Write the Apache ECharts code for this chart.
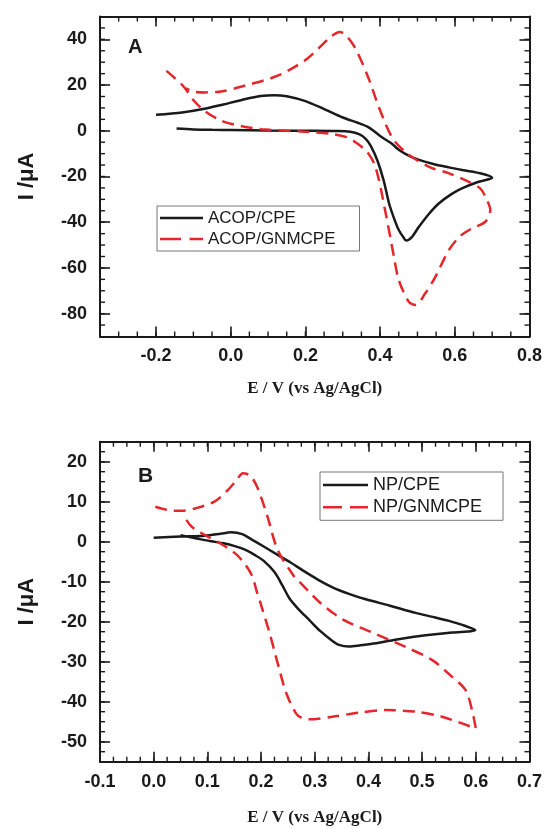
<!DOCTYPE html>
<html>
<head>
<meta charset="utf-8">
<script src="https://cdn.jsdelivr.net/npm/echarts@6/dist/echarts.min.js"></script>
<style>
html,body{margin:0;padding:0;background:#fff;}
#chart{width:545px;height:829px;}
</style>
</head>
<body>
<div id="chart"></div>
<script>
// ---------- Panel A data ----------
var acopCpeE = [-0.145,-0.1,-0.05,0.0,0.1,0.2,0.28,0.32,0.345,0.362,0.375,0.393,0.41,0.424,0.44,0.45,0.462,0.47,0.485,0.504,0.53,0.557,0.59,0.619,0.66,0.7,
  0.668,0.625,0.584,0.54,0.495,0.47,0.45,0.43,0.403,0.385,0.366,0.34,0.3,0.25,0.2,0.15,0.117,0.08,0.03,-0.02,-0.07,-0.13,-0.2];
var acopCpeI = [1.0,0.6,0.4,0.3,0.1,0.0,-0.1,-0.4,-1.6,-3.6,-6.6,-13.1,-22,-31.8,-39.5,-43.4,-46.5,-48,-46.5,-42,-36.5,-31.8,-27.8,-25.2,-22.5,-20.5,
  -18.6,-17.3,-16,-14.4,-12.2,-10.3,-8.3,-5.5,-2.6,-0.3,1.8,3.5,5.8,9.5,13,15.1,15.6,15.2,13.5,11.5,9.6,8,7];

var acopGnmE = [-0.172,-0.128,-0.097,-0.07,-0.025,0.03,0.082,0.188,0.272,0.31,0.335,0.366,0.388,0.415,0.437,0.45,0.477,0.495,0.521,0.548,0.584,0.615,0.646,0.682,0.695,0.686,0.668,
  0.628,0.583,0.539,0.5,0.468,0.432,0.397,0.37,0.335,0.31,0.292,0.268,0.235,0.197,0.126,0.037,-0.025,-0.07,-0.1,-0.12];
var acopGnmI = [26.2,19.7,12.9,8.7,4.4,2.0,0.7,-0.3,-1.4,-2.8,-5.1,-9.4,-16,-36.1,-55.1,-65.3,-74.8,-76.2,-71.1,-63.9,-52.2,-46,-42.7,-39.8,-34.7,-30.3,-25.2,
  -21.6,-18.5,-16.3,-13,-9.4,-2.9,10.2,22.6,35.7,41.5,43.2,41.1,36,30.6,24.1,19.7,17.2,16.8,17.2,18.5];

// ---------- Panel B data ----------
var npCpeE = [0.0,0.05,0.095,0.125,0.144,0.165,0.182,0.205,0.231,0.255,0.277,0.305,0.333,0.365,0.395,0.44,0.488,0.52,0.55,0.575,0.599,
  0.556,0.52,0.488,0.45,0.414,0.385,0.364,0.345,0.333,0.31,0.29,0.27,0.253,0.24,0.225,0.205,0.188,0.17,0.151,0.13,0.107,0.08,0.05];
var npCpeI = [1.0,1.3,1.5,2.0,2.35,1.9,0.6,-1.2,-3.3,-5.2,-7.1,-9.4,-11.4,-13.1,-14.4,-16.0,-17.8,-18.8,-19.8,-20.8,-22.1,
  -22.7,-23.2,-23.7,-24.5,-25.4,-25.9,-26.2,-25.8,-24.8,-22.3,-19.6,-16.9,-14.2,-11,-7.6,-4.8,-3.3,-2.0,-1.1,-0.4,0.1,0.8,1.6];

var npGnmE = [0.003,0.036,0.055,0.077,0.113,0.138,0.155,0.166,0.18,0.194,0.212,0.231,0.262,0.27,0.308,0.352,0.405,0.469,0.519,0.556,0.581,0.593,0.6,
  0.537,0.488,0.432,0.383,0.333,0.29,0.275,0.265,0.247,0.231,0.216,0.2,0.193,0.181,0.155,0.119,0.101,0.071,0.055];
var npGnmI = [8.75,7.75,7.75,8.3,10,12.9,15.5,17.1,16.5,13.3,6.25,-2.1,-8.75,-9.8,-15,-19.4,-22.6,-26.3,-29.6,-33.8,-37.1,-42.1,-46.7,
  -43.75,-42.5,-42.1,-42.75,-43.75,-44.4,-44,-42.9,-37.9,-30.4,-22.9,-15.8,-12.9,-7.9,-3.3,0,1.25,3.75,6.7];

// ---------- Axis ticks ----------
var xTicksA = [-0.2,0.0,0.2,0.4,0.6,0.8];
var yTicksA = [-80,-60,-40,-20,0,20,40];
var xTicksB = [-0.1,0.0,0.1,0.2,0.3,0.4,0.5,0.6,0.7];
var yTicksB = [-50,-40,-30,-20,-10,0,10,20];

var seriesNamesA = ['ACOP/CPE','ACOP/GNMCPE'];
var seriesNamesB = ['NP/CPE','NP/GNMCPE'];

function zip(a,b){ var r=[]; for(var i=0;i<a.length;i++) r.push([a[i],b[i]]); return r; }

var SANS = '"Liberation Sans", Arial, sans-serif';
var SERIF = '"Liberation Serif", "Times New Roman", serif';
var BLK = '#1a1a1a';
var RED = '#e5262b';

var fx = function(v){ return (Math.abs(v)<1e-9?0:v).toFixed(1); };
var fy = function(v){ return String(Math.round(v)); };

function axis(grid, pos, min, max, ticks, showLabel, fmt, name, nameGap, isX){
  var ax = {
    type:'value', gridIndex:grid, position:pos, min:min, max:max,
    splitLine:{show:false},
    axisLine:{show:true, onZero:false, lineStyle:{color:BLK, width:2}},
    axisTick:{show:true, inside:true, length:10, customValues:ticks, lineStyle:{color:BLK, width:1.6}},
    axisLabel:{show:showLabel, customValues:ticks, formatter:fmt, margin:isX?11:13,
      color:BLK, fontFamily:SANS, fontWeight:'bold', fontSize:18}
  };
  if (name){
    ax.name = name; ax.nameLocation = 'middle'; ax.nameGap = nameGap;
    ax.nameTextStyle = isX ? {fontFamily:SERIF, fontWeight:'bold', fontSize:17, color:BLK}
                           : {fontFamily:SANS, fontWeight:'bold', fontSize:22, color:BLK};
  }
  return ax;
}

// minor tick marks (inside, on all four sides), placed through the axes' own scales
function minorTickData(xMin, xMax, xStep, yMin, yMax, yStep){
  var d = [], i, v;
  for (i = 1; xMin + i*xStep < xMax - 1e-9; i++){ v = +(xMin + i*xStep).toFixed(4); d.push([v, 0]); d.push([v, 1]); }
  for (i = 1; yMin + i*yStep < yMax - 1e-9; i++){ v = +(yMin + i*yStep).toFixed(4); d.push([v, 2]); d.push([v, 3]); }
  return d;
}
function minorTickRenderer(xMin, xMax, yMin, yMax){
  return function(params, api){
    var v = api.value(0), side = api.value(1), len = 5, p;
    var st = {stroke:BLK, lineWidth:1.4};
    if (side === 0){ p = api.coord([v, yMin]); return {type:'line', shape:{x1:p[0], y1:p[1], x2:p[0], y2:p[1]-len}, style:st}; }
    if (side === 1){ p = api.coord([v, yMax]); return {type:'line', shape:{x1:p[0], y1:p[1], x2:p[0], y2:p[1]+len}, style:st}; }
    if (side === 2){ p = api.coord([xMin, v]); return {type:'line', shape:{x1:p[0], y1:p[1], x2:p[0]+len, y2:p[1]}, style:st}; }
    p = api.coord([xMax, v]); return {type:'line', shape:{x1:p[0], y1:p[1], x2:p[0]-len, y2:p[1]}, style:st};
  };
}

var option = {
  animation:false,
  backgroundColor:'#fff',
  grid:[
    {left:100, top:16.5, width:431, height:320},
    {left:100, top:441.7, width:431, height:320}
  ],
  title:[
    {text:'A', left:128, top:37, padding:0, textStyle:{fontFamily:SANS, fontWeight:'bold', fontSize:20, color:BLK}},
    {text:'B', left:138, top:466, padding:0, textStyle:{fontFamily:SANS, fontWeight:'bold', fontSize:21, color:BLK}}
  ],
  xAxis:[
    axis(0,'bottom',-0.35,0.8,xTicksA,true,fx,'E / V (vs Ag/AgCl)',44,true),
    axis(0,'top',-0.35,0.8,xTicksA,false,fx,null,0,true),
    axis(1,'bottom',-0.1,0.7,xTicksB,true,fx,'E / V (vs Ag/AgCl)',47,true),
    axis(1,'top',-0.1,0.7,xTicksB,false,fx,null,0,true)
  ],
  yAxis:[
    axis(0,'left',-90,50,yTicksA,true,fy,'I /\u03BCA',62,false),
    axis(0,'right',-90,50,yTicksA,false,fy,null,0,false),
    axis(1,'left',-55,25,yTicksB,true,fy,'I /\u03BCA',62,false),
    axis(1,'right',-55,25,yTicksB,false,fy,null,0,false)
  ],
  legend:[
    {data:[
       {name:seriesNamesA[0], icon:'path://M0,0H43V2.6H0Z'},
       {name:seriesNamesA[1], icon:'path://M0,0H21V2.6H0Z M29.5,0H43V2.6H29.5Z'}
     ],
     orient:'vertical', left:157, top:206, itemGap:4, itemWidth:43, itemHeight:18,
     padding:[3.5,24,3.5,3], borderColor:'#777', borderWidth:1, selectedMode:false,
     itemStyle:{borderWidth:0},
     textStyle:{fontFamily:SANS, fontSize:17, color:BLK}},
    {data:[
       {name:seriesNamesB[0], icon:'path://M0,0H45V2.6H0Z'},
       {name:seriesNamesB[1], icon:'path://M0,0H19V2.6H0Z M27,0H45V2.6H27Z'}
     ],
     orient:'vertical', left:320, top:472, itemGap:4.3, itemWidth:45, itemHeight:18,
     padding:[4,21,4,3], borderColor:'#777', borderWidth:1, selectedMode:false,
     itemStyle:{borderWidth:0},
     textStyle:{fontFamily:SANS, fontSize:18, color:BLK}}
  ],
  series:[
    {type:'custom', xAxisIndex:0, yAxisIndex:0, clip:false, z:3,
     data:minorTickData(-0.35, 0.8, 0.05, -90, 50, 5),
     renderItem:minorTickRenderer(-0.35, 0.8, -90, 50)},
    {type:'custom', xAxisIndex:2, yAxisIndex:2, clip:false, z:3,
     data:minorTickData(-0.1, 0.7, 0.025, -55, 25, 2.5),
     renderItem:minorTickRenderer(-0.1, 0.7, -55, 25)},
    {name:seriesNamesA[0], type:'line', xAxisIndex:0, yAxisIndex:0, data:zip(acopCpeE,acopCpeI),
     showSymbol:false, symbol:'none', smooth:0.3, lineStyle:{color:BLK, width:2.5}, itemStyle:{color:BLK}},
    {name:seriesNamesA[1], type:'line', xAxisIndex:0, yAxisIndex:0, data:zip(acopGnmE,acopGnmI),
     showSymbol:false, symbol:'none', smooth:0.3, lineStyle:{color:RED, width:2.5, type:[12,7]}, itemStyle:{color:RED}},
    {name:seriesNamesB[0], type:'line', xAxisIndex:2, yAxisIndex:2, data:zip(npCpeE,npCpeI),
     showSymbol:false, symbol:'none', smooth:0.3, lineStyle:{color:BLK, width:2.5}, itemStyle:{color:BLK}},
    {name:seriesNamesB[1], type:'line', xAxisIndex:2, yAxisIndex:2, data:zip(npGnmE,npGnmI),
     showSymbol:false, symbol:'none', smooth:0.3, lineStyle:{color:RED, width:2.5, type:[12,7]}, itemStyle:{color:RED}}
  ]
};
var chart = echarts.init(document.getElementById('chart'), null, {renderer:'canvas'});
chart.setOption(option);
</script>
</body>
</html>
